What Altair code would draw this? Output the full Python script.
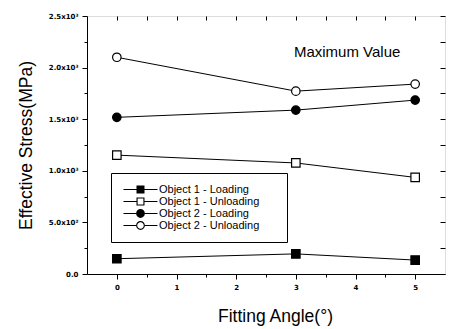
import altair as alt
import pandas as pd

# ---- data ----
angles = [0, 3, 5]
series_names = ["Object 1 - Loading", "Object 1 - Unloading",
                "Object 2 - Loading", "Object 2 - Unloading"]
obj1_loading = [148, 195, 135]
obj1_unloading = [1152, 1076, 936]
obj2_loading = [1518, 1588, 1685]
obj2_unloading = [2100, 1772, 1840]
series_shapes = ["square", "square", "circle", "circle"]
series_fills = ["black", "white", "black", "white"]
x_tick_values = [0, 0.5, 1, 1.5, 2, 2.5, 3, 3.5, 4, 4.5, 5]
y_tick_values = [0, 250, 500, 750, 1000, 1250, 1500, 1750, 2000, 2250, 2500]
annotation_text = ["Maximum Value"]
annotation_x = [3.86]
annotation_y = [2150]

rows = []
for name, vals in zip(series_names, [obj1_loading, obj1_unloading, obj2_loading, obj2_unloading]):
    for a, v in zip(angles, vals):
        rows.append({"angle": a, "stress": v, "series": name})
df = pd.DataFrame(rows)
ann = pd.DataFrame({"text": annotation_text, "angle": annotation_x, "stress": annotation_y})

X_DOM = [-0.5, 5.5]
Y_DOM = [0, 2500]
FONT = "Liberation Sans"
TICKFONT = "DejaVu Sans"


def xs():
    return alt.Scale(domain=X_DOM, nice=False, zero=False)


def ys():
    return alt.Scale(domain=Y_DOM, nice=False, zero=False)


minor_x = "datum.value % 1 != 0"
minor_y = "datum.value % 500 != 0"

x_axis = alt.Axis(
    values=x_tick_values, orient="bottom", grid=False,
    labelExpr="datum.value % 1 == 0 ? format(datum.value, 'd') : ''",
    labelFont=TICKFONT, labelFontSize=7, labelFontWeight="bold", labelColor="black",
    labelPadding=4, tickColor="black", domainColor="black",
    tickSize={"condition": {"test": minor_x, "value": 3}, "value": 5},
    title="Fitting Angle(°)", titleFont=FONT, titleFontSize=17.5,
    titleFontWeight="normal", titleColor="black", titlePadding=17, titleX=188,
)
y_axis = alt.Axis(
    values=y_tick_values, orient="left", grid=False,
    labelExpr="datum.value % 500 != 0 ? '' : datum.value == 0 ? '0.0' : datum.value < 1000 ? format(datum.value/100, '.1f') + 'x10²' : format(datum.value/1000, '.1f') + 'x10³'",
    labelFont=TICKFONT, labelFontSize=7, labelFontWeight="bold", labelColor="black",
    labelPadding=4, tickColor="black", domainColor="black",
    tickSize={"condition": {"test": minor_y, "value": 3}, "value": 5},
    title="Effective Stress(MPa)", titleFont=FONT, titleFontSize=17.5,
    titleFontWeight="normal", titleColor="black", titlePadding=13,
)
x_top = alt.Axis(values=x_tick_values, orient="top", labels=False, domain=False,
                 grid=False, tickColor="black", tickSize=4, offset=-4, title=None)
y_right = alt.Axis(values=y_tick_values, orient="right", labels=False, domain=False,
                   grid=False, tickColor="black", tickSize=5, offset=-5, title=None)

lines = alt.Chart(df).mark_line(color="black", strokeWidth=1).encode(
    x=alt.X("angle:Q", scale=xs(), axis=x_axis),
    y=alt.Y("stress:Q", scale=ys(), axis=y_axis),
    detail="series:N",
)

points = alt.Chart(df).mark_point(stroke="black", strokeWidth=1.2, size=72, opacity=1).encode(
    x=alt.X("angle:Q", scale=xs(), axis=None),
    y=alt.Y("stress:Q", scale=ys(), axis=None),
    shape=alt.Shape("series:N", scale=alt.Scale(domain=series_names, range=series_shapes), legend=None),
    fill=alt.Fill("series:N", scale=alt.Scale(domain=series_names, range=series_fills), legend=None),
)

mirror = alt.Chart(df).mark_point(opacity=0).encode(
    x=alt.X("angle:Q", scale=xs(), axis=x_top),
    y=alt.Y("stress:Q", scale=ys(), axis=y_right),
)

# legend glyphs (fill only): line stubs + marker, hollow markers as rings
def stubs(r):
    return (f"M-4.25,-0.13H{-r}V0.13H-4.25Z"
            f"M{r},-0.13H4.25V0.13H{r}Z")


def circ(r, sweep):
    return f"M{-r},0A{r},{r},0,1,{sweep},{r},0A{r},{r},0,1,{sweep},{-r},0Z"


sq_filled = stubs(1) + "M-1,-1H1V1H-1Z"
sq_hollow = stubs(1) + "M-1,-1H1V1H-1Z" + "M-0.72,-0.72V0.72H0.72V-0.72Z"
ci_filled = stubs(1.1) + circ(1.1, 1)
ci_hollow = stubs(1.1) + circ(1.1, 1) + circ(0.82, 0)

BLANK = "\u2800"  # blank pattern, widens the legend box on the right
legend = alt.Legend(
    title=None, orient="none", legendX=24, legendY=157,
    labelFont=FONT, labelFontSize=11, labelColor="black",
    labelExpr="datum.label + '" + BLANK * 2 + "'",
    symbolSize=64, symbolStrokeWidth=0, symbolFillColor="black",
    symbolOffset=13, labelOffset=13, padding=11, rowPadding=0,
    strokeColor="black", fillColor="white", cornerRadius=0,
)

legend_layer = alt.Chart(df).transform_filter("datum.stress < -1000").mark_point(
    filled=True, color="black", size=64, opacity=1
).encode(
    x=alt.X("angle:Q", scale=xs(), axis=None),
    y=alt.Y("stress:Q", scale=ys(), axis=None),
    shape=alt.Shape("series:N", scale=alt.Scale(domain=series_names,
                    range=[sq_filled, sq_hollow, ci_filled, ci_hollow]), legend=legend),
)

text = alt.Chart(ann).mark_text(font=FONT, fontSize=15, color="black").encode(
    x=alt.X("angle:Q", scale=xs(), axis=None),
    y=alt.Y("stress:Q", scale=ys(), axis=None),
    text="text:N",
)

chart = alt.layer(lines, points, mirror, legend_layer, text).resolve_scale(
    x="independent", y="independent", shape="independent", fill="independent"
).properties(
    width=358, height=258,
    autosize=alt.AutoSizeParams(type="none"),
    padding={"left": 79, "top": 8, "right": 1, "bottom": 55},
).configure_view(stroke="black", strokeWidth=1).configure(background="white")

chart.save("out.html", embed_options={"renderer": "svg", "actions": False})
